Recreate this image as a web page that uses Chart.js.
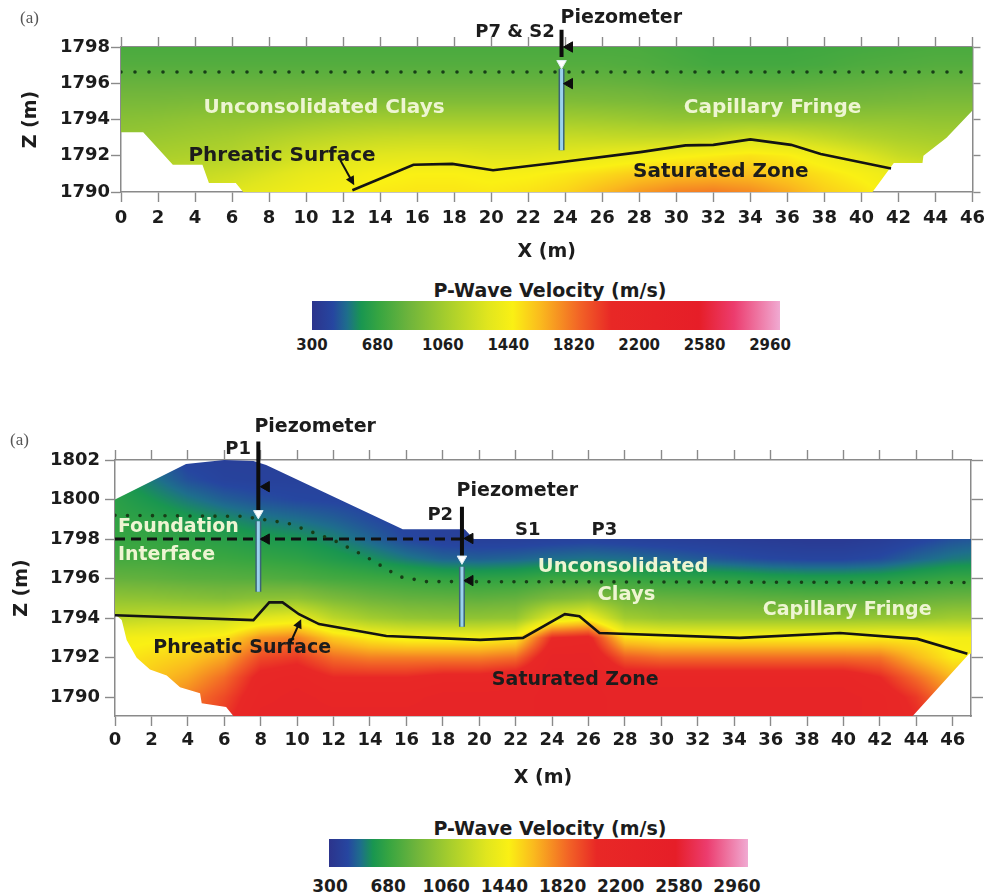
<!DOCTYPE html>
<html>
<head>
<meta charset="utf-8">
<script src="https://cdn.jsdelivr.net/npm/chart.js@4.4.0/dist/chart.umd.min.js"></script>
<style>
  html, body { margin: 0; padding: 0; background: #fff; }
  #page { position: relative; width: 991px; height: 896px; overflow: hidden; font-family: "DejaVu Sans", sans-serif; }
  .panel { position: absolute; left: 0; width: 991px; }
  .tag { position: absolute; font: 17px "Liberation Serif", "DejaVu Serif", serif; color: #555; }
  .bar { position: absolute; }
  .bar-text { position: absolute; font-weight: bold; color: #1c1c1c; transform: translate(-50%, -50%); white-space: nowrap; }
</style>
</head>
<body>
<div id="page">
  <div class="panel" style="top:0;height:270px"><canvas id="upperSection"></canvas></div>
  <div class="panel" style="top:400px;height:400px"><canvas id="lowerSection"></canvas></div>
  <span class="tag" style="left:20px;top:8px">(a)</span>
  <span class="tag" style="left:10px;top:430px">(a)</span>
</div>
<script>
// ---- shared scale of the colour bars ----
const velocityTicks = [300, 680, 1060, 1440, 1820, 2200, 2580, 2960];

// ---- upper section (P7 & S2 line) ----
const upperTicksX = [0, 2, 4, 6, 8, 10, 12, 14, 16, 18, 20, 22, 24, 26, 28, 30, 32, 34, 36, 38, 40, 42, 44, 46];
const upperTicksZ = [1790, 1792, 1794, 1796, 1798];
const upperGridX = [0, 2, 4, 6, 8, 10, 12, 14, 16, 18, 20, 22, 24, 26, 28, 30, 32, 34, 36, 38, 40, 42, 44, 46];
const upperGridZ = [1798, 1797, 1796, 1795, 1794, 1793, 1792, 1791, 1790];
const upperVelocity = [
  [740, 740, 740, 740, 740, 740, 740, 740, 740, 740, 740, 740, 740, 740, 740, 720, 700, 700, 700, 710, 720, 730, 740, 740],
  [770, 770, 770, 770, 770, 770, 770, 770, 770, 770, 770, 770, 770, 770, 760, 740, 720, 720, 720, 730, 750, 760, 770, 770],
  [830, 830, 830, 830, 830, 830, 830, 830, 830, 830, 830, 830, 830, 830, 820, 800, 790, 790, 790, 800, 810, 820, 830, 830],
  [890, 890, 900, 900, 900, 910, 920, 920, 920, 920, 920, 920, 920, 910, 900, 880, 880, 880, 880, 880, 880, 890, 900, 900],
  [950, 960, 980, 990, 1000, 1020, 1040, 1050, 1050, 1050, 1050, 1050, 1050, 1040, 1020, 1000, 1000, 1000, 1000, 1000, 990, 990, 980, 980],
  [1000, 1020, 1040, 1060, 1100, 1140, 1170, 1190, 1200, 1200, 1200, 1200, 1200, 1190, 1180, 1180, 1200, 1250, 1230, 1180, 1120, 1080, 1060, 1060],
  [1050, 1080, 1100, 1120, 1180, 1240, 1280, 1310, 1320, 1320, 1300, 1300, 1320, 1350, 1380, 1420, 1450, 1480, 1450, 1380, 1300, 1200, 1150, 1150],
  [1100, 1150, 1180, 1220, 1280, 1340, 1380, 1420, 1440, 1440, 1420, 1430, 1460, 1500, 1550, 1580, 1590, 1580, 1540, 1480, 1420, 1350, 1300, 1300],
  [1150, 1200, 1250, 1300, 1350, 1400, 1430, 1460, 1470, 1470, 1460, 1480, 1520, 1600, 1680, 1740, 1760, 1720, 1640, 1540, 1480, 1400, 1350, 1350]
];
const upperSurfaceX = [0, 46];
const upperSurfaceZ = [1798, 1798];
const upperBaseX = [0, 1.2, 2.8, 4.4, 4.75, 6.2, 6.6, 40.6, 41.75, 43.3, 43.35, 44.6, 46];
const upperBaseZ = [1793.3, 1793.3, 1791.5, 1791.5, 1790.5, 1790.5, 1790, 1790, 1791.6, 1791.6, 1792, 1793, 1794.5];
const upperPhreaticX = [12.5, 15.8, 17.9, 20.1, 23.4, 28.05, 30.5, 32, 34, 36.2, 37.8, 41.6];
const upperPhreaticZ = [1790.1, 1791.5, 1791.55, 1791.2, 1791.6, 1792.2, 1792.57, 1792.6, 1792.9, 1792.6, 1792.1, 1791.3];
const upperFringeX = [0, 46];
const upperFringeZ = [1796.62, 1796.62];
const upperPiezoX = [23.8];
const upperRiserTopZ = [1798.95];
const upperRiserBaseZ = [1797.45];
const upperWaterZ = [1797.1];
const upperTubeTopZ = [1796.8];
const upperTubeBaseZ = [1792.3];
const upperPointerX = [24.23, 24.23];
const upperPointerZ = [1798.0, 1795.98];

// ---- lower section (P1 - P2 - P3 line) ----
const lowerTicksX = [0, 2, 4, 6, 8, 10, 12, 14, 16, 18, 20, 22, 24, 26, 28, 30, 32, 34, 36, 38, 40, 42, 44, 46];
const lowerTicksZ = [1790, 1792, 1794, 1796, 1798, 1800, 1802];
const lowerGridX = [0, 2, 4, 6, 8, 10, 12, 14, 16, 18, 20, 22, 24, 26, 28, 30, 32, 34, 36, 38, 40, 42, 44, 46, 48];
const lowerGridZ = [1802, 1801, 1800, 1799, 1798, 1797, 1796, 1795, 1794, 1793, 1792, 1791, 1790, 1789];
const lowerVelocity = [
  [560, 480, 400, 380, 380, 380, 400, 420, 420, 400, 380, 380, 380, 380, 380, 380, 380, 380, 380, 380, 380, 380, 380, 380, 380],
  [600, 520, 440, 400, 390, 390, 400, 400, 400, 390, 380, 380, 380, 380, 380, 380, 380, 380, 380, 380, 380, 380, 380, 380, 380],
  [640, 580, 520, 470, 440, 420, 410, 400, 390, 380, 380, 380, 380, 380, 380, 380, 380, 380, 380, 380, 380, 380, 380, 380, 380],
  [660, 640, 600, 560, 520, 500, 470, 430, 400, 380, 370, 370, 370, 370, 370, 370, 370, 370, 370, 370, 370, 380, 400, 420, 430],
  [680, 670, 650, 630, 600, 580, 540, 480, 420, 390, 380, 380, 390, 400, 390, 380, 370, 360, 350, 340, 340, 360, 400, 440, 460],
  [720, 720, 700, 690, 670, 650, 610, 570, 520, 480, 470, 480, 500, 510, 500, 480, 460, 440, 420, 410, 410, 430, 480, 520, 540],
  [820, 810, 790, 780, 770, 750, 720, 700, 680, 660, 650, 660, 700, 700, 680, 660, 650, 640, 620, 610, 610, 620, 650, 680, 680],
  [980, 970, 950, 930, 960, 970, 900, 850, 820, 810, 800, 820, 900, 950, 860, 830, 820, 810, 800, 790, 790, 800, 820, 840, 850],
  [1150, 1180, 1180, 1200, 1300, 1350, 1150, 1050, 1000, 980, 980, 1000, 1300, 1400, 1050, 1000, 990, 990, 990, 990, 990, 1000, 1000, 1050, 1050],
  [1400, 1420, 1440, 1480, 1700, 1750, 1550, 1450, 1400, 1400, 1400, 1450, 2000, 2050, 1500, 1450, 1440, 1440, 1440, 1440, 1440, 1450, 1450, 1400, 1400],
  [1450, 1500, 1550, 1650, 1900, 1950, 1800, 1750, 1750, 1750, 1750, 1800, 2150, 2150, 1850, 1800, 1800, 1800, 1800, 1800, 1800, 1780, 1600, 1450, 1450],
  [1500, 1560, 1650, 1800, 2050, 2100, 2000, 2000, 2000, 2050, 2050, 2100, 2200, 2200, 2100, 2100, 2100, 2100, 2100, 2100, 2100, 2000, 1800, 1600, 1600],
  [1550, 1600, 1750, 1900, 2100, 2150, 2100, 2100, 2100, 2150, 2150, 2150, 2200, 2200, 2150, 2150, 2150, 2150, 2150, 2150, 2150, 2100, 1950, 1700, 1700],
  [1600, 1650, 1800, 1950, 2150, 2150, 2150, 2150, 2150, 2150, 2150, 2150, 2200, 2200, 2150, 2150, 2150, 2150, 2150, 2150, 2150, 2100, 2000, 1800, 1800]
];
const lowerSurfaceX = [0, 3.9, 6, 7.6, 8.3, 15.8, 19.2, 19.7, 47];
const lowerSurfaceZ = [1800, 1801.8, 1802, 1801.95, 1801.75, 1798.5, 1798.5, 1798.0, 1798.0];
const lowerBaseX = [0, 0.37, 0.64, 1.19, 1.92, 2.84, 3.57, 4.67, 4.76, 6.1, 6.5, 43.8, 46.9, 47];
const lowerBaseZ = [1794.2, 1793.9, 1792.9, 1792.0, 1791.4, 1791.1, 1790.5, 1790.2, 1789.7, 1789.5, 1789.05, 1789.05, 1792.2, 1792.2];
const lowerPhreaticX = [0, 7.6, 8.47, 9.2, 10.1, 11.2, 14.9, 20.05, 22.4, 24.7, 25.5, 26.6, 34.3, 39.8, 44.05, 46.8];
const lowerPhreaticZ = [1794.15, 1793.9, 1794.8, 1794.8, 1794.2, 1793.7, 1793.1, 1792.9, 1793.0, 1794.2, 1794.1, 1793.25, 1793.0, 1793.25, 1792.95, 1792.2];
const lowerFringeX = [0, 7, 9.5, 12, 13.8, 15.6, 17.1, 47];
const lowerFringeZ = [1799.2, 1799.15, 1798.8, 1797.95, 1797.1, 1796.1, 1795.85, 1795.8];
const lowerFoundationX = [0, 19.6];
const lowerFoundationZ = [1798, 1798];
const lowerPiezoX = [7.87, 19.05];
const lowerRiserTopZ = [1802.93, 1799.64];
const lowerRiserBaseZ = [1799.47, 1797.1];
const lowerWaterZ = [1799.3, 1797.0];
const lowerTubeTopZ = [1798.9, 1796.6];
const lowerTubeBaseZ = [1795.33, 1793.56];
const lowerPointerX = [8.31, 8.31, 19.49, 19.49];
const lowerPointerZ = [1800.65, 1798.0, 1798.03, 1795.9];

// velocity -> colour ramp used by both the sections and the colour bars
const palette = [
  [300, 44, 52, 140], [420, 38, 70, 160], [500, 30, 110, 140], [580, 25, 150, 80],
  [680, 55, 165, 65], [850, 110, 180, 60], [1060, 165, 205, 45], [1300, 225, 230, 30],
  [1440, 250, 240, 20], [1600, 250, 185, 30], [1820, 242, 100, 38], [2000, 232, 40, 38],
  [2500, 230, 30, 40], [2700, 236, 60, 110], [2960, 240, 170, 210]
];

function colourFor(v) {
  if (v <= palette[0][0]) return palette[0].slice(1);
  for (let i = 1; i < palette.length; i++) {
    if (v <= palette[i][0]) {
      const a = palette[i - 1], b = palette[i], t = (v - a[0]) / (b[0] - a[0]);
      return [a[1] + (b[1] - a[1]) * t, a[2] + (b[2] - a[2]) * t, a[3] + (b[3] - a[3]) * t];
    }
  }
  return palette[palette.length - 1].slice(1);
}

function gridIndex(axis, v) {
  const f = (v - axis[0]) / (axis[1] - axis[0]);
  return Math.max(0, Math.min(axis.length - 1, f));
}

function sampleVelocity(s, xv, zv) {
  const fx = gridIndex(s.gridX, xv), fz = gridIndex(s.gridZ, zv);
  const i = Math.min(Math.floor(fx), s.gridX.length - 2), j = Math.min(Math.floor(fz), s.gridZ.length - 2);
  const tx = fx - i, tz = fz - j, g = s.velocity;
  const top = g[j][i] * (1 - tx) + g[j][i + 1] * tx;
  const bot = g[j + 1][i] * (1 - tx) + g[j + 1][i + 1] * tx;
  return top * (1 - tz) + bot * tz;
}

// paints the velocity field inside the section outline, under the datasets
function fieldPlugin(s) {
  return {
    id: 'velocityField',
    beforeDatasetsDraw(chart) {
      const { ctx, chartArea: area, scales: { x, y } } = chart;
      const w = Math.ceil(area.right - area.left), h = Math.ceil(area.bottom - area.top);
      const layer = document.createElement('canvas');
      layer.width = w; layer.height = h;
      const lctx = layer.getContext('2d');
      const img = lctx.createImageData(w, h);
      for (let r = 0; r < h; r++) {
        const zv = y.getValueForPixel(area.top + r + 0.5);
        for (let c = 0; c < w; c++) {
          const rgb = colourFor(sampleVelocity(s, x.getValueForPixel(area.left + c + 0.5), zv));
          const k = (r * w + c) * 4;
          img.data[k] = rgb[0]; img.data[k + 1] = rgb[1]; img.data[k + 2] = rgb[2]; img.data[k + 3] = 255;
        }
      }
      lctx.putImageData(img, 0, 0);
      const outX = s.surfaceX.concat(s.baseX.slice().reverse());
      const outZ = s.surfaceZ.concat(s.baseZ.slice().reverse());
      ctx.save();
      ctx.beginPath();
      outX.forEach((xv, i) => {
        const px = x.getPixelForValue(xv), py = y.getPixelForValue(outZ[i]);
        if (i === 0) ctx.moveTo(px, py); else ctx.lineTo(px, py);
      });
      ctx.closePath();
      ctx.clip();
      ctx.drawImage(layer, area.left, area.top);
      ctx.restore();
    }
  };
}

// zone names, well names and the pointer arrows
function notesPlugin(notes, arrows) {
  return {
    id: 'sectionNotes',
    afterDatasetsDraw(chart) {
      const { ctx, scales: { x, y } } = chart;
      ctx.save();
      ctx.textBaseline = 'middle';
      notes.forEach(n => {
        ctx.font = `bold ${n.size}px "DejaVu Sans"`;
        ctx.fillStyle = n.colour;
        ctx.textAlign = n.align || 'center';
        ctx.fillText(n.text, x.getPixelForValue(n.x), y.getPixelForValue(n.z));
      });
      arrows.forEach(a => {
        const x0 = x.getPixelForValue(a.from[0]), y0 = y.getPixelForValue(a.from[1]);
        const x1 = x.getPixelForValue(a.to[0]), y1 = y.getPixelForValue(a.to[1]);
        const ang = Math.atan2(y1 - y0, x1 - x0);
        ctx.strokeStyle = '#111'; ctx.fillStyle = '#111'; ctx.lineWidth = 2;
        ctx.beginPath();
        ctx.moveTo(x0, y0);
        ctx.lineTo(x1 - Math.cos(ang) * 6, y1 - Math.sin(ang) * 6);
        ctx.stroke();
        ctx.beginPath();
        ctx.moveTo(x1, y1);
        ctx.lineTo(x1 - Math.cos(ang) * 9 + Math.sin(ang) * 4.5, y1 - Math.sin(ang) * 9 - Math.cos(ang) * 4.5);
        ctx.lineTo(x1 - Math.cos(ang) * 9 - Math.sin(ang) * 4.5, y1 - Math.sin(ang) * 9 + Math.cos(ang) * 4.5);
        ctx.closePath();
        ctx.fill();
      });
      ctx.restore();
    }
  };
}

const axisGrey = '#8a8a8a';
const ink = '#1c1c1c';
const pale = '#eef5d2';
const tickFont = { size: 18, weight: 'bold', family: '"DejaVu Sans"' };
const titleFont = { size: 19, weight: 'bold', family: '"DejaVu Sans"' };

Chart.defaults.font.family = '"DejaVu Sans", sans-serif';
Chart.defaults.color = ink;

function frameScales(s, f) {
  const fixTicks = list => scale => { scale.ticks = list.map(v => ({ value: v })); };
  const edge = (position, min, max, list, size, tickLength) => ({
    type: 'linear', position, min, max,
    afterBuildTicks: fixTicks(list),
    afterFit: scale => { if (position === 'top' || position === 'bottom') scale.height = size; else scale.width = size; },
    grid: { drawOnChartArea: false, tickLength, tickColor: axisGrey, tickWidth: 1.4 },
    border: { color: axisGrey, width: 1.5 },
    ticks: { display: false, autoSkip: false }
  });
  const x = edge('bottom', s.xMin, s.xMax, s.ticksX, f.bottomH, f.tickLen);
  x.ticks = { display: true, autoSkip: false, maxRotation: 0, font: tickFont, color: ink, padding: f.xTickPad, callback: v => String(v) };
  x.title = { display: true, text: 'X (m)', font: titleFont, color: ink, padding: { top: 0, bottom: f.xTitlePad } };
  const y = edge('left', s.zMin, s.zMax, s.ticksZ, f.leftW, f.tickLen);
  y.ticks = { display: true, autoSkip: false, font: tickFont, color: ink, padding: f.yTickPad, callback: v => String(v) };
  y.title = { display: true, text: 'Z (m)', font: titleFont, color: ink, padding: { top: f.yTitlePad, bottom: 0 } };
  return {
    x, y,
    xTop: edge('top', s.xMin, s.xMax, s.ticksX, f.topH, f.topH),
    yRight: edge('right', s.zMin, s.zMax, s.ticksZ, f.rightW, f.rightW)
  };
}

function buildSection(canvasId, s, f, notes, arrows) {
  const pts = (xs, zs) => xs.map((x, i) => ({ x, y: zs[i] }));
  const segs = (xs, z0, z1) => xs.flatMap((x, i) => [{ x, y: z0[i] }, { x, y: z1[i] }, { x, y: null }]);
  // listed bottom-most first
  const layers = [];
  if (s.foundationX) {
    layers.push({ data: pts(s.foundationX, s.foundationZ), borderColor: '#111', borderWidth: 3, borderDash: [10, 6] });
  }
  layers.push(
    { data: pts(s.fringeX, s.fringeZ), borderColor: '#173d17', borderWidth: 3.6, borderDash: [0, f.dotGap], borderCapStyle: 'round' },
    { data: pts(s.phreaticX, s.phreaticZ), borderColor: '#141414', borderWidth: 2.6 },
    { data: segs(s.piezoX, s.tubeTopZ, s.tubeBaseZ), borderColor: '#3a6478', borderWidth: 6 },
    { data: segs(s.piezoX, s.tubeTopZ, s.tubeBaseZ), borderColor: '#9ad3ec', borderWidth: 3 },
    { data: segs(s.piezoX, s.riserTopZ, s.riserBaseZ), borderColor: '#0d0d0d', borderWidth: 4, clip: false },
    { data: pts(s.piezoX, s.waterZ), showLine: false, pointStyle: 'triangle', rotation: 180, pointRadius: 5.5,
      pointBackgroundColor: '#ffffff', pointBorderColor: '#dfeef4', pointBorderWidth: 1, clip: false },
    { data: pts(s.pointerX, s.pointerZ), showLine: false, pointStyle: 'triangle', rotation: 270, pointRadius: 6,
      pointBackgroundColor: '#0d0d0d', pointBorderColor: '#0d0d0d', pointBorderWidth: 1, clip: false }
  );
  const datasets = layers.map((d, i) => Object.assign(d, { order: layers.length - i }));
  return new Chart(document.getElementById(canvasId), {
    type: 'line',
    data: { datasets },
    options: {
      responsive: true,
      maintainAspectRatio: false,
      animation: false,
      events: [],
      layout: { padding: f.padding },
      elements: { point: { radius: 0 }, line: { tension: 0 } },
      plugins: { legend: { display: false }, tooltip: { enabled: false } },
      scales: frameScales(s, f)
    },
    plugins: [fieldPlugin(s), notesPlugin(notes, arrows)]
  });
}

buildSection('upperSection', {
  xMin: 0, xMax: 46, zMin: 1790, zMax: 1798, ticksX: upperTicksX, ticksZ: upperTicksZ,
  gridX: upperGridX, gridZ: upperGridZ, velocity: upperVelocity,
  surfaceX: upperSurfaceX, surfaceZ: upperSurfaceZ, baseX: upperBaseX, baseZ: upperBaseZ,
  phreaticX: upperPhreaticX, phreaticZ: upperPhreaticZ, fringeX: upperFringeX, fringeZ: upperFringeZ,
  piezoX: upperPiezoX, riserTopZ: upperRiserTopZ, riserBaseZ: upperRiserBaseZ, waterZ: upperWaterZ,
  tubeTopZ: upperTubeTopZ, tubeBaseZ: upperTubeBaseZ, pointerX: upperPointerX, pointerZ: upperPointerZ
}, {
  leftW: 121, rightW: 8, topH: 10, bottomH: 78, tickLen: 10,
  padding: { left: 0, right: 0, top: 37, bottom: 0 },
  xTickPad: 6, yTickPad: 1, xTitlePad: 6.6, yTitlePad: 19.6, dotGap: 14
}, [
  { text: 'Unconsolidated Clays', x: 10.97, z: 1794.62, colour: pale, size: 20 },
  { text: 'Capillary Fringe', x: 35.2, z: 1794.62, colour: pale, size: 20 },
  { text: 'Phreatic Surface', x: 8.7, z: 1792.02, colour: ink, size: 20 },
  { text: 'Saturated Zone', x: 32.4, z: 1791.09, colour: ink, size: 20 },
  { text: 'P7 & S2', x: 23.43, z: 1798.81, colour: ink, size: 18, align: 'right' },
  { text: 'Piezometer', x: 23.75, z: 1799.58, colour: ink, size: 19, align: 'left' }
], [
  { from: [11.85, 1791.75], to: [12.6, 1790.37] }
]);

buildSection('lowerSection', {
  xMin: 0, xMax: 47, zMin: 1789.05, zMax: 1802, ticksX: lowerTicksX, ticksZ: lowerTicksZ,
  gridX: lowerGridX, gridZ: lowerGridZ, velocity: lowerVelocity,
  surfaceX: lowerSurfaceX, surfaceZ: lowerSurfaceZ, baseX: lowerBaseX, baseZ: lowerBaseZ,
  phreaticX: lowerPhreaticX, phreaticZ: lowerPhreaticZ, fringeX: lowerFringeX, fringeZ: lowerFringeZ,
  foundationX: lowerFoundationX, foundationZ: lowerFoundationZ,
  piezoX: lowerPiezoX, riserTopZ: lowerRiserTopZ, riserBaseZ: lowerRiserBaseZ, waterZ: lowerWaterZ,
  tubeTopZ: lowerTubeTopZ, tubeBaseZ: lowerTubeBaseZ, pointerX: lowerPointerX, pointerZ: lowerPointerZ
}, {
  leftW: 115, rightW: 12, topH: 10, bottomH: 84, tickLen: 10,
  padding: { left: 0, right: 8, top: 50, bottom: 0 },
  xTickPad: 4, yTickPad: 5, xTitlePad: 10.6, yTitlePad: 10.6, dotGap: 12.5
}, [
  { text: 'Foundation', x: 0.16, z: 1798.61, colour: pale, size: 19, align: 'left' },
  { text: 'Interface', x: 0.16, z: 1797.19, colour: pale, size: 19, align: 'left' },
  { text: 'Unconsolidated', x: 27.9, z: 1796.58, colour: pale, size: 19.5 },
  { text: 'Clays', x: 28.08, z: 1795.16, colour: pale, size: 19.5 },
  { text: 'Capillary Fringe', x: 40.2, z: 1794.41, colour: pale, size: 19 },
  { text: 'Phreatic Surface', x: 6.98, z: 1792.48, colour: ink, size: 19 },
  { text: 'Saturated Zone', x: 25.27, z: 1790.86, colour: ink, size: 19 },
  { text: 'P1', x: 6.76, z: 1802.56, colour: ink, size: 18 },
  { text: 'Piezometer', x: 10.99, z: 1803.67, colour: ink, size: 19 },
  { text: 'P2', x: 17.86, z: 1799.22, colour: ink, size: 18 },
  { text: 'Piezometer', x: 22.09, z: 1800.43, colour: ink, size: 19 },
  { text: 'S1', x: 22.66, z: 1798.46, colour: ink, size: 18 },
  { text: 'P3', x: 26.87, z: 1798.46, colour: ink, size: 18 }
], [
  { from: [9.62, 1792.73], to: [10.22, 1793.95] }
]);

// colour bars with their value labels
function colourbar(box) {
  const page = document.getElementById('page');
  const lo = velocityTicks[0], hi = velocityTicks[velocityTicks.length - 1];
  const stops = palette.map(p => `rgb(${p[1]},${p[2]},${p[3]}) ${((p[0] - lo) / (hi - lo) * 100).toFixed(1)}%`).join(', ');
  const bar = document.createElement('div');
  bar.className = 'bar';
  Object.assign(bar.style, {
    left: box.left + 'px', top: box.top + 'px', width: box.width + 'px', height: box.height + 'px',
    background: `linear-gradient(to right, ${stops})`
  });
  page.appendChild(bar);
  const title = document.createElement('div');
  title.className = 'bar-text';
  title.textContent = 'P-Wave Velocity (m/s)';
  Object.assign(title.style, { left: box.titleX + 'px', top: box.titleY + 'px', fontSize: box.titleSize + 'px' });
  page.appendChild(title);
  velocityTicks.forEach((v, i) => {
    const lab = document.createElement('div');
    lab.className = 'bar-text';
    lab.textContent = String(v);
    const px = box.labelLeft + i * (box.labelRight - box.labelLeft) / (velocityTicks.length - 1);
    Object.assign(lab.style, { left: px + 'px', top: box.labelY + 'px', fontSize: box.labelSize + 'px' });
    page.appendChild(lab);
  });
}

colourbar({ left: 312, top: 301, width: 468, height: 29, titleX: 550, titleY: 290, titleSize: 19,
  labelLeft: 312, labelRight: 770, labelY: 345, labelSize: 15 });
colourbar({ left: 329, top: 839, width: 419, height: 28, titleX: 550, titleY: 828, titleSize: 19,
  labelLeft: 330, labelRight: 737, labelY: 886, labelSize: 17 });
</script>
</body>
</html>
